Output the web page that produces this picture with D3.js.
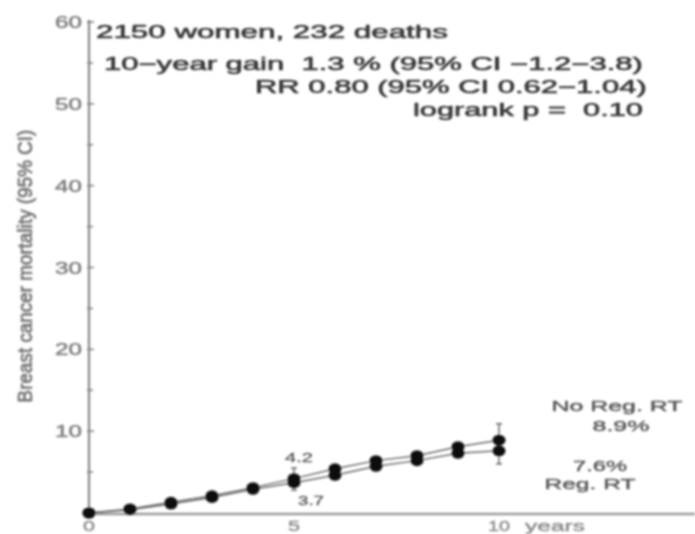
<!DOCTYPE html>
<html>
<head>
<meta charset="utf-8">
<script src="https://cdn.jsdelivr.net/npm/d3@7"></script>
<style>
  html, body { margin: 0; padding: 0; background: #fff; }
  svg { display: block; }
  text { font-family: "Liberation Sans", Arial, Helvetica, sans-serif; white-space: pre; }
</style>
</head>
<body>
<svg id="chart" width="695" height="534"></svg>
<script>
// Cumulative breast cancer mortality (%) by year of follow-up
const years = [0, 1, 2, 3, 4, 5, 6, 7, 8, 9, 10];
const noRegRT = [0, 0.5, 1.3, 2.1, 3.1, 4.2, 5.4, 6.4, 7.0, 8.1, 8.9];
const regRT   = [0, 0.4, 1.1, 1.9, 2.9, 3.7, 4.6, 5.7, 6.4, 7.3, 7.6];

// 95% CI whiskers shown at 5 and 10 years
const ciYears   = [5, 10];
const ciUpperNo = [5.5, 10.9];
const ciLowerRg = [2.8, 6.0];

const yTicks = [10, 20, 30, 40, 50, 60];
const yMinorTicks = [5, 15, 25, 35, 45, 55];
const xTicks = [0, 5, 10];

const statLines = [
  "2150 women, 232 deaths",
  "10\u2212year gain  1.3 % (95% CI \u22121.2\u22123.8)",
  "RR 0.80 (95% CI 0.62\u22121.04)",
  "logrank p =  0.10"
];

const svg = d3.select("#chart");

const defs = svg.append("defs");
defs.append("filter").attr("id", "soft")
  .attr("x", "-5%").attr("y", "-5%").attr("width", "110%").attr("height", "110%")
  .append("feGaussianBlur").attr("stdDeviation", 0.9);

const g = svg.append("g").attr("filter", "url(#soft)");

const x = d3.scaleLinear().domain([0, 15]).range([89, 704]);
const y = d3.scaleLinear().domain([0, 60]).range([513, 22]);

// Text fitted to a given width, optionally thickened and stretched vertically
function wideText(parent, opts) {
  const grp = parent.append("g");
  const t = grp.append("text")
    .attr("font-size", opts.size)
    .attr("fill", opts.fill)
    .text(opts.text);
  if (opts.heavy) {
    t.attr("stroke", opts.fill).attr("stroke-width", opts.heavy).attr("stroke-linejoin", "round");
  }
  const natural = t.node().getComputedTextLength();
  const sx = opts.width / natural;
  const sy = opts.sy || 1;
  let left = opts.x;
  if (opts.anchor === "middle") left = opts.x - opts.width / 2;
  if (opts.anchor === "end") left = opts.x - opts.width;
  grp.attr("transform", `translate(${left},${opts.y}) scale(${sx},${sy})`);
  return grp;
}

// Axes
g.append("line").attr("x1", x(0)).attr("x2", 695).attr("y1", y(0) + 1).attr("y2", y(0) + 1)
  .attr("stroke", "#9a9a9a").attr("stroke-width", 2.4);
g.append("line").attr("x1", x(0)).attr("x2", x(0)).attr("y1", y(60) - 2).attr("y2", y(0) + 1)
  .attr("stroke", "#858585").attr("stroke-width", 2.2);

const tickG = g.append("g");
tickG.selectAll("line.major").data(yTicks).join("line").attr("class", "major")
  .attr("x1", x(0) - 2).attr("x2", x(0) + 5)
  .attr("y1", d => y(d)).attr("y2", d => y(d))
  .attr("stroke", "#858585").attr("stroke-width", 1.6);
tickG.selectAll("line.minor").data(yMinorTicks).join("line").attr("class", "minor")
  .attr("x1", x(0) - 2).attr("x2", x(0) + 4)
  .attr("y1", d => y(d)).attr("y2", d => y(d))
  .attr("stroke", "#858585").attr("stroke-width", 1.6);

yTicks.forEach(v => {
  wideText(g, { text: String(v), x: 82, y: y(v) + 6, width: 27, size: 16,
    fill: "#808080", anchor: "end", heavy: 0.5 });
});

// X tick labels
xTicks.forEach(v => {
  wideText(g, { text: String(v), x: x(v), y: 531, width: v < 10 ? 12 : 22, size: 15,
    fill: "#8a8a8a", anchor: "middle", heavy: 0.4 });
});
wideText(g, { text: "years", x: 525, y: 531, width: 60, size: 15, fill: "#8a8a8a", heavy: 0.4 });

// Y axis title
const yTitle = g.append("g").attr("transform", "translate(32,266) rotate(-90)");
wideText(yTitle, { text: "Breast cancer mortality (95% CI)", x: 0, y: 0, width: 273,
  size: 14, sy: 1.45, fill: "#707070", anchor: "middle", heavy: 0.5 });

// Summary statistics
const statPos = [
  { x: 96,  y: 38,  w: 352 },
  { x: 104, y: 70,  w: 539 },
  { x: 255, y: 93,  w: 392 },
  { x: 413, y: 116, w: 230 }
];
statLines.forEach((s, i) => {
  wideText(g, { text: s, x: statPos[i].x, y: statPos[i].y, width: statPos[i].w,
    size: 18, fill: "#383838", heavy: 0.6 });
});

// Connecting lines
const line = d3.line().x((d, i) => x(years[i])).y(d => y(d));
[noRegRT, regRT].forEach(series => {
  g.append("path").datum(series)
    .attr("d", line).attr("fill", "none")
    .attr("stroke", "#6a6a6a").attr("stroke-width", 1.5);
});

// Confidence interval whiskers
ciYears.forEach((yr, i) => {
  const iy = years.indexOf(yr);
  const segs = [[noRegRT[iy], ciUpperNo[i]], [regRT[iy], ciLowerRg[i]]];
  segs.forEach(([a, b]) => {
    g.append("line").attr("x1", x(yr)).attr("x2", x(yr)).attr("y1", y(a)).attr("y2", y(b))
      .attr("stroke", "#555").attr("stroke-width", 1.3);
    g.append("line").attr("x1", x(yr) - 3).attr("x2", x(yr) + 3).attr("y1", y(b)).attr("y2", y(b))
      .attr("stroke", "#555").attr("stroke-width", 1.3);
  });
});

// Points
[noRegRT, regRT].forEach(series => {
  g.append("g").selectAll("ellipse").data(series).join("ellipse")
    .attr("cx", (d, i) => x(years[i])).attr("cy", d => y(d))
    .attr("rx", 6.5).attr("ry", 5.5).attr("fill", "#111");
});

// Value labels at 5 years
const i5 = years.indexOf(5);
wideText(g, { text: noRegRT[i5].toFixed(1), x: x(5) + 5, y: y(ciUpperNo[0]) - 6,
  width: 28, size: 13, fill: "#555", anchor: "middle", heavy: 0.3 });
wideText(g, { text: regRT[i5].toFixed(1), x: x(5) + 17, y: y(ciLowerRg[0]) + 15,
  width: 26, size: 13, fill: "#555", anchor: "middle", heavy: 0.3 });

// Group labels at 10 years
const i10 = years.indexOf(10);
const groupLabels = [
  { t: "No Reg. RT", cx: 617, y: 411, w: 131 },
  { t: noRegRT[i10].toFixed(1) + "%", cx: 621, y: 431, w: 57 },
  { t: regRT[i10].toFixed(1) + "%", cx: 600, y: 471, w: 54 },
  { t: "Reg. RT", cx: 590, y: 489, w: 91 }
];
groupLabels.forEach(d => {
  wideText(g, { text: d.t, x: d.cx, y: d.y, width: d.w, size: 15, fill: "#555",
    anchor: "middle", heavy: 0.4 });
});
</script>
</body>
</html>
